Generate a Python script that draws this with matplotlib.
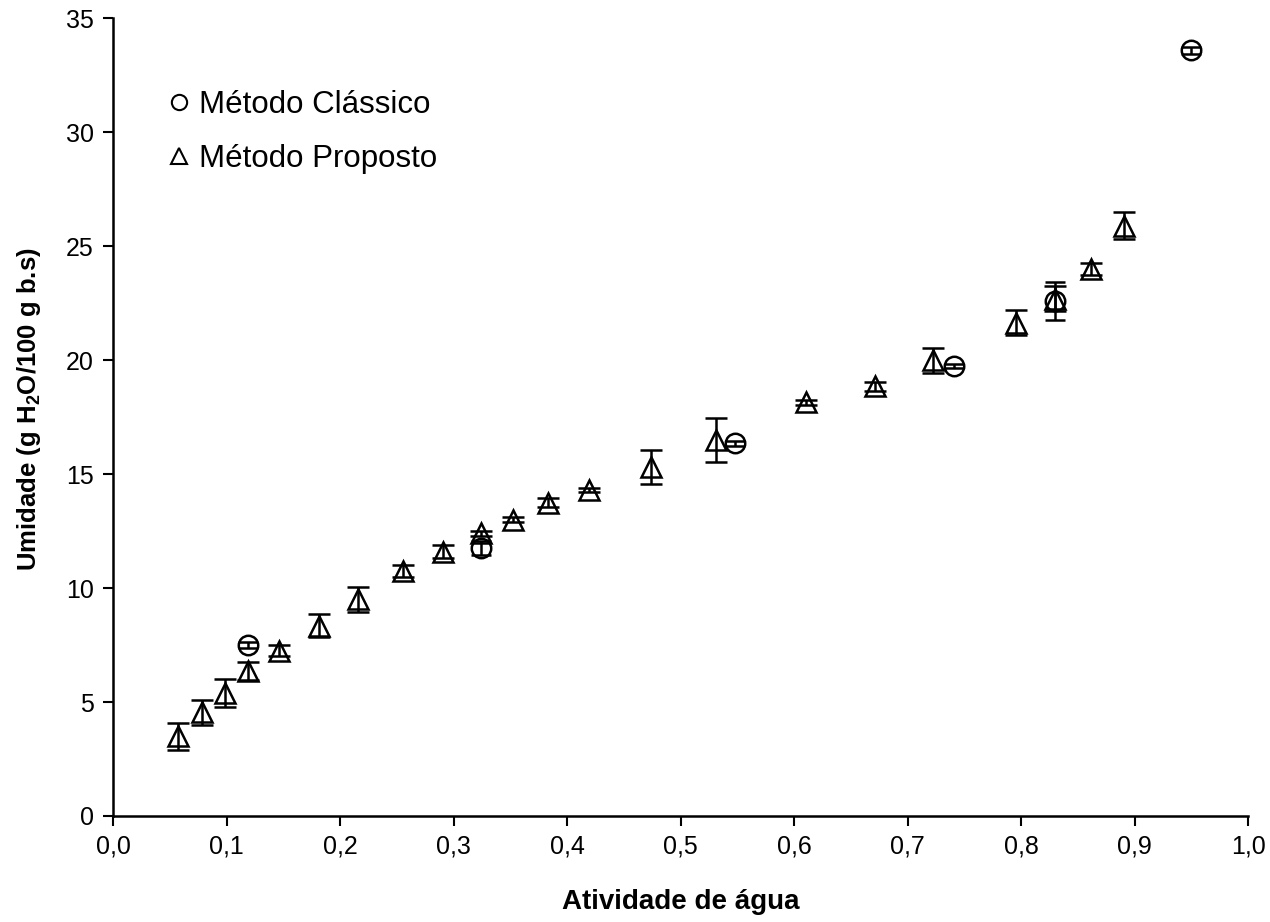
import matplotlib.pyplot as plt
from matplotlib.lines import Line2D
from matplotlib.ticker import FuncFormatter

plt.rcParams['font.family'] = ['Liberation Sans', 'DejaVu Sans']
plt.rcParams['mathtext.fontset'] = 'custom'
plt.rcParams['mathtext.rm'] = 'Liberation Sans'
plt.rcParams['mathtext.bf'] = 'Liberation Sans:bold'

# Método Proposto
aw_prop = [0.057, 0.078, 0.099, 0.119, 0.146, 0.181, 0.216, 0.255, 0.291, 0.324, 0.352,
           0.383, 0.419, 0.474, 0.531, 0.610, 0.671, 0.722, 0.795, 0.830, 0.861, 0.890]
um_prop = [3.5, 4.55, 5.4, 6.35, 7.25, 8.35, 9.5, 10.75, 11.6, 12.4, 13.0,
           13.75, 14.3, 15.3, 16.5, 18.15, 18.85, 20.0, 21.65, 22.7, 24.0, 25.9]
dp_prop = [0.6, 0.55, 0.6, 0.4, 0.25, 0.5, 0.55, 0.25, 0.3, 0.1, 0.1,
           0.2, 0.1, 0.75, 0.95, 0.1, 0.2, 0.55, 0.55, 0.55, 0.25, 0.6]

# Método Clássico
aw_clas = [0.119, 0.324, 0.548, 0.741, 0.830, 0.949]
um_clas = [7.5, 11.75, 16.35, 19.75, 22.6, 33.6]
dp_clas = [0.15, 0.3, 0.1, 0.1, 0.85, 0.15]

fig = plt.figure(figsize=(12.7, 9.22), dpi=100)
ax = fig.add_axes([0.089, 0.115, 0.894, 0.865])

ax.errorbar(aw_prop, um_prop, yerr=dp_prop, fmt='^', ms=15, mfc='none', mec='black',
            mew=1.8, ecolor='black', elinewidth=1.8, capsize=8, capthick=1.8)
ax.errorbar(aw_clas, um_clas, yerr=dp_clas, fmt='o', ms=14, mfc='none', mec='black',
            mew=1.8, ecolor='black', elinewidth=1.8, capsize=7, capthick=1.8)

ax.set_xlim(0, 1.0)
ax.set_ylim(0, 35)
ax.set_xticks([i / 10 for i in range(11)])
ax.set_yticks(range(0, 36, 5))
ax.xaxis.set_major_formatter(FuncFormatter(lambda v, p: f'{v:.1f}'.replace('.', ',')))
ax.tick_params(labelsize=18, direction='out', length=7, width=1.5)
ax.tick_params(axis='y', pad=7)
ax.tick_params(axis='x', pad=6)
for s in ['top', 'right']:
    ax.spines[s].set_visible(False)
for s in ['left', 'bottom']:
    ax.spines[s].set_linewidth(1.8)

ax.set_xlabel('Atividade de água', fontsize=20, fontweight='bold', labelpad=22)
ax.set_ylabel(r'Umidade (g H$_\mathbf{2}$O/100 g b.s)', fontsize=18.5, fontweight='bold')
ax.yaxis.set_label_coords(-0.062, 0.51)

handles = [
    Line2D([], [], ls='none', marker='o', ms=11, mfc='none', mec='black', mew=1.5),
    Line2D([], [], ls='none', marker='^', ms=11, mfc='none', mec='black', mew=1.5),
]
ax.legend(handles, ['Método Clássico', 'Método Proposto'], loc='upper left',
          bbox_to_anchor=(0.025, 0.945), frameon=False, fontsize=22.5,
          handlelength=0.6, handletextpad=0.35, labelspacing=0.75)

plt.savefig('out.png')
